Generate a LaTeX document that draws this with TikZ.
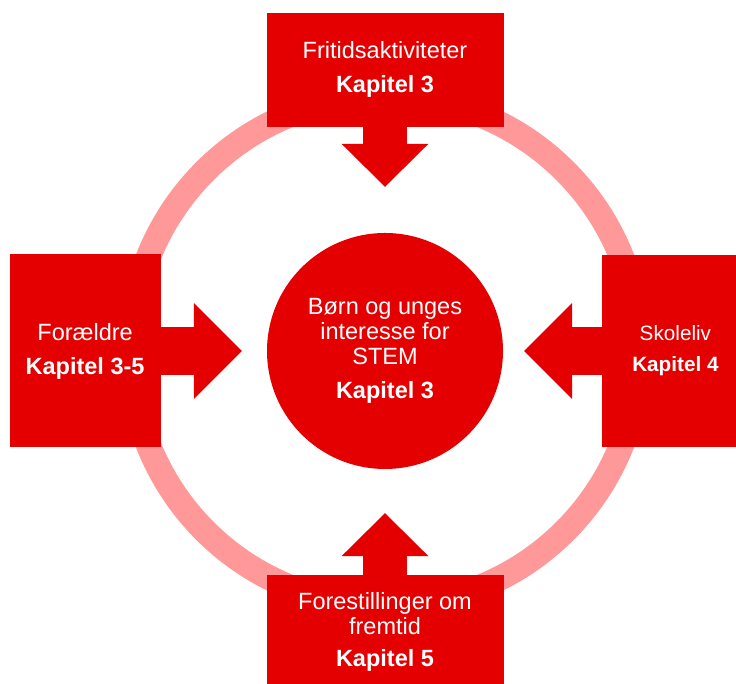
\documentclass[tikz,border=0pt]{standalone}
\usepackage{fontspec}
\setmainfont{Liberation Sans}
\usetikzlibrary{positioning,arrows.meta}
\definecolor{kapred}{RGB}{228,0,0}
\definecolor{ringpink}{RGB}{255,153,153}
\tikzstyle{hub} = [fill=kapred, circle, text=white, align=center, inner sep=0pt, minimum size=236pt, font=\fontsize{23.5}{25}\selectfont]
\tikzstyle{area} = [fill=kapred, rectangle, text=white, align=center, inner sep=0pt, font=\fontsize{23.5}{25}\selectfont]
\tikzstyle{push} = [draw=kapred, shorten <=-2pt]
\tikzstyle{vpush} = [push, line width=44pt, -{Triangle[width=87pt,length=43pt,line width=0pt]}]
\tikzstyle{hpush} = [push, line width=48pt, -{Triangle[width=96pt,length=48pt,line width=0pt]}]

\begin{document}
\begin{tikzpicture}[x=1pt, y=1pt, node distance=106pt]
\useasboundingbox (0,0) rectangle (736,684);
\node (core) [hub] at (385,333) {Børn og unges\\interesse for\\STEM\\[9pt]\textbf{Kapitel 3}};
\draw [ringpink, line width=25pt] (core) circle (254.5);
\node (leisure) [area, minimum width=237pt, minimum height=114pt, above=of core] {Fritidsaktiviteter\\[9pt]\textbf{Kapitel 3}};
\node (parents) [area, minimum width=151pt, minimum height=193pt, left=of core] {Forældre\\[9pt]\textbf{Kapitel 3-5}};
\node (school) [area, minimum width=146pt, minimum height=192pt, right=99pt of core, font=\fontsize{20.7}{22}\selectfont] {Skoleliv\\[9pt]\textbf{Kapitel 4}};
\node (future) [area, minimum width=237pt, minimum height=114pt, below=of core] {Forestillinger om\\fremtid\\[7pt]\textbf{Kapitel 5}};
% arrow tips stop short of the circle
\coordinate [above=46pt of core] (leisuretip);
\coordinate [left=25pt of core] (parentstip);
\coordinate [right=21pt of core] (schooltip);
\coordinate [below=44pt of core] (futuretip);
\draw [vpush] (leisure) -- (leisuretip);
\draw [hpush] (parents) -- (parentstip);
\draw [hpush] (school) -- (schooltip);
\draw [vpush] (future) -- (futuretip);
\end{tikzpicture}
\end{document}
